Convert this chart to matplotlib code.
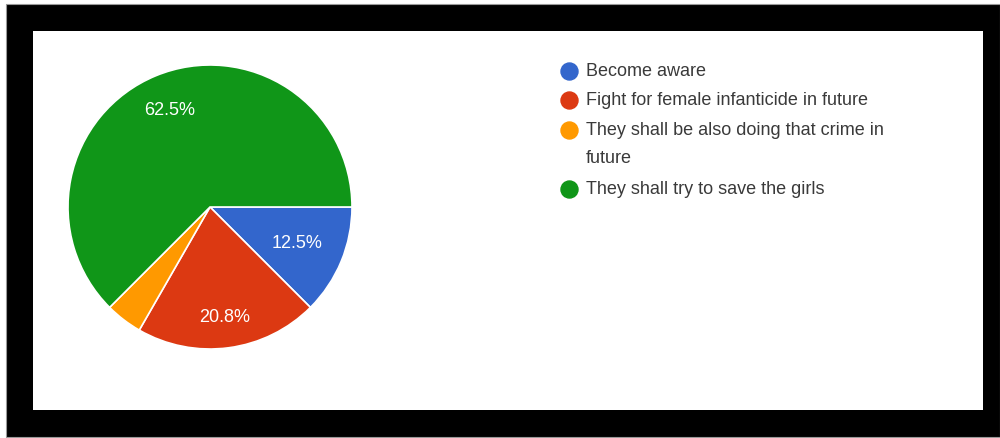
import numpy as np
import matplotlib.pyplot as plt
from matplotlib.patches import Rectangle

# data
labels = ["Become aware",
          "Fight for female infanticide in future",
          "They shall be also doing that crime in\nfuture",
          "They shall try to save the girls"]
shares = [12.5, 20.8, 4.2, 62.5]
colors = ["#3366cc", "#dc3912", "#ff9900", "#109618"]

plt.rcParams['font.family'] = ['Liberation Sans', 'DejaVu Sans']

W, H = 1000, 439
fig = plt.figure(figsize=(W / 100, H / 100), dpi=100)
fig.patch.set_facecolor("white")

# background frame in pixel coords
bg = fig.add_axes([0, 0, 1, 1])
bg.set_xlim(0, W)
bg.set_ylim(H, 0)
bg.axis("off")
bg.add_patch(Rectangle((6, 5), W - 6, 433, facecolor="black", edgecolor="#999999", lw=0.8))
bg.add_patch(Rectangle((33, 32), 950, 379, facecolor="white", edgecolor="none"))

# manual legend
row_y = [72, 101, 131, 190]
for lab, c, y in zip(labels, colors, row_y):
    bg.scatter([569], [y], s=150, color=c, zorder=3)
    for i, line in enumerate(lab.split("\n")):
        bg.text(586, y + 28 * i, line, fontsize=13, color="#3a3a3a", va="center")

# pie: center (210, 208), radius 142 px
cx, cy, r = 210, 208, 142
ax = fig.add_axes([(cx - r) / W, 1 - (cy + r) / H, 2 * r / W, 2 * r / H])
wedges, texts, autotexts = ax.pie(
    shares, colors=colors, startangle=0, counterclock=False,
    autopct=lambda p: f"{p:.1f}%" if p > 5 else "",
    wedgeprops=dict(edgecolor="white", linewidth=1.2),
    textprops=dict(color="white", fontsize=13))

# label distances from centre, as placed in the original
label_dist = [0.66, 0.78, 0.7, 0.74]
for w, t, d in zip(wedges, autotexts, label_dist):
    ang = np.deg2rad((w.theta1 + w.theta2) / 2)
    t.set_position((d * np.cos(ang), d * np.sin(ang)))

ax.set_aspect("equal")
ax.set_xlim(-1, 1)
ax.set_ylim(-1, 1)

fig.savefig("out.png", dpi=100)
